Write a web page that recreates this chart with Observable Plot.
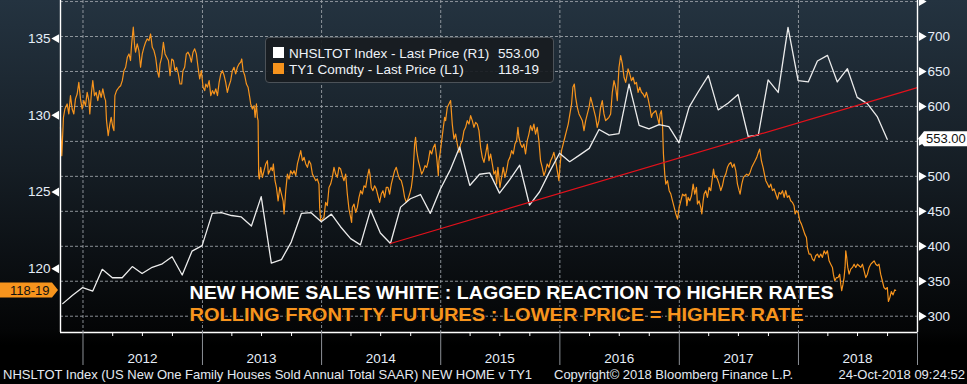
<!DOCTYPE html>
<html><head><meta charset="utf-8">
<script src="https://cdn.jsdelivr.net/npm/d3@7"></script>
<script src="https://cdn.jsdelivr.net/npm/@observablehq/plot@0.6"></script>
<style>
html,body{margin:0;padding:0;background:#000;}
#wrap{position:relative;width:967px;height:384px;overflow:hidden;
 background:linear-gradient(to bottom,#243340 0px,#151d24 170px,#040506 330px,#000 345px,#000 384px);
 font-family:"Liberation Sans",Arial,sans-serif;}
#chart svg{display:block;}
.legend{position:absolute;left:265px;top:37px;width:289px;height:46px;box-sizing:border-box;
 border:1px solid #4c5258;border-radius:4px;background:rgba(24,28,32,0.93);color:#eef2f8;font-size:13.5px;line-height:16px;}
.legend .sw{position:absolute;left:7px;width:11px;height:11px;}
.legend .tx{position:absolute;left:23px;white-space:nowrap;}
.legend .vl{position:absolute;left:232px;white-space:nowrap;}
.foot{position:absolute;top:367px;font-size:13px;line-height:16px;color:#e4eaf2;white-space:nowrap;}
</style>
</head><body>
<div id="wrap">
 <div id="chart"></div>
 <div class="legend">
  <div class="sw" style="top:9px;background:#ffffff"></div>
  <div class="tx" id="lg1" style="top:8px"></div><div class="vl" id="lv1" style="top:8px"></div>
  <div class="sw" style="top:24.5px;background:#f7941d"></div>
  <div class="tx" id="lg2" style="top:24px"></div><div class="vl" id="lv2" style="top:24px"></div>
 </div>
 <div class="foot" id="f1" style="left:3px"></div>
 <div class="foot" id="f2" style="left:554px"></div>
 <div class="foot" id="f3" style="right:2px"></div>
</div>
<script>
// ---------------- DATA ----------------
const nhsMonths = ["2011-10","2011-11","2011-12",
 "2012-01","2012-02","2012-03","2012-04","2012-05","2012-06","2012-07","2012-08","2012-09","2012-10","2012-11","2012-12",
 "2013-01","2013-02","2013-03","2013-04","2013-05","2013-06","2013-07","2013-08","2013-09","2013-10","2013-11","2013-12",
 "2014-01","2014-02","2014-03","2014-04","2014-05","2014-06","2014-07","2014-08","2014-09","2014-10","2014-11","2014-12",
 "2015-01","2015-02","2015-03","2015-04","2015-05","2015-06","2015-07","2015-08","2015-09","2015-10","2015-11","2015-12",
 "2016-01","2016-02","2016-03","2016-04","2016-05","2016-06","2016-07","2016-08","2016-09","2016-10","2016-11","2016-12",
 "2017-01","2017-02","2017-03","2017-04","2017-05","2017-06","2017-07","2017-08","2017-09","2017-10","2017-11","2017-12",
 "2018-01","2018-02","2018-03","2018-04","2018-05","2018-06","2018-07","2018-08","2018-09"];
const nhsValues = [318,330,341,
 336,367,355,355,371,361,370,375,385,359,393,401,
 447,448,444,442,429,471,376,381,406,447,448,435,
 446,428,411,402,452,419,404,456,468,474,447,482,
 510,542,487,503,505,476,495,516,459,478,506,533,
 521,530,540,567,559,561,632,573,568,574,571,548,
 599,621,644,595,605,617,557,559,638,620,713,637,
 635,665,673,635,654,613,604,585,553];

// TY1 front futures price: [decimal year, price]
const tySeries = [
[2011.811,129.22],[2011.822,127.37],[2011.836,129.87],[2011.848,130.41],[2011.867,130.74],[2011.881,130.09],[2011.895,131.28],[2011.909,130.41],[2011.923,130.09],[2011.937,131.07],[2011.951,131.39],[2011.965,132.15],[2011.979,131.07],[2011.993,130.41],
[2012.007,130.96],[2012.021,130.63],[2012.035,131.5],[2012.049,130.96],[2012.057,130.09],[2012.071,131.5],[2012.082,132.26],[2012.096,131.28],[2012.110,131.5],[2012.124,130.96],[2012.138,131.61],[2012.152,131.17],[2012.166,131.72],[2012.180,131.17],[2012.189,130.96],[2012.197,129.65],[2012.211,128.67],[2012.225,129.43],[2012.236,129.87],[2012.250,129.22],[2012.259,129.0],[2012.267,131.28],[2012.281,131.61],[2012.301,131.83],[2012.315,131.93],[2012.329,132.26],[2012.343,132.91],[2012.357,133.13],[2012.371,133.78],[2012.385,134.0],[2012.398,133.57],[2012.407,134.65],[2012.421,135.74],[2012.432,134.54],[2012.440,134.11],[2012.454,134.65],[2012.468,134.22],[2012.482,133.13],[2012.496,134.0],[2012.510,134.43],[2012.524,134.76],[2012.538,134.98],[2012.552,134.87],[2012.566,135.3],[2012.580,134.43],[2012.594,134.22],[2012.608,133.78],[2012.622,132.91],[2012.636,132.48],[2012.645,133.35],[2012.659,133.78],[2012.673,134.76],[2012.687,134.0],[2012.701,133.78],[2012.715,133.57],[2012.729,132.59],[2012.743,133.67],[2012.757,133.57],[2012.770,132.91],[2012.784,133.13],[2012.798,132.7],[2012.812,132.04],[2012.826,132.04],[2012.837,132.91],[2012.851,133.13],[2012.865,134.0],[2012.879,134.11],[2012.893,133.89],[2012.907,133.46],[2012.921,134.11],[2012.935,134.33],[2012.949,134.0],[2012.963,133.13],[2012.977,132.37],[2012.991,132.91],
[2013.005,131.83],[2013.019,131.61],[2013.028,132.04],[2013.042,131.83],[2013.056,132.26],[2013.070,131.28],[2013.084,131.61],[2013.098,131.39],[2013.112,131.72],[2013.126,131.28],[2013.140,132.15],[2013.154,132.7],[2013.168,132.91],[2013.182,132.59],[2013.195,132.15],[2013.209,131.5],[2013.223,131.93],[2013.237,132.26],[2013.251,132.91],[2013.265,133.13],[2013.279,132.7],[2013.293,133.13],[2013.307,133.35],[2013.321,133.46],[2013.330,133.67],[2013.341,132.91],[2013.355,132.59],[2013.369,132.04],[2013.383,131.83],[2013.397,131.17],[2013.405,130.74],[2013.419,130.41],[2013.433,130.63],[2013.442,129.87],[2013.453,130.74],[2013.461,129.87],[2013.467,129.65],[2013.472,126.07],[2013.478,125.85],[2013.489,126.61],[2013.503,125.96],[2013.517,126.39],[2013.531,126.83],[2013.545,127.04],[2013.553,126.17],[2013.565,126.39],[2013.576,126.61],[2013.587,126.39],[2013.595,126.83],[2013.609,125.74],[2013.621,125.3],[2013.635,124.43],[2013.649,125.3],[2013.663,124.87],[2013.677,124.43],[2013.685,123.57],[2013.699,125.09],[2013.713,126.17],[2013.727,125.85],[2013.741,126.39],[2013.755,126.17],[2013.769,126.39],[2013.783,126.07],[2013.797,126.83],[2013.811,127.26],[2013.825,127.7],[2013.839,127.04],[2013.853,127.26],[2013.867,126.83],[2013.881,126.61],[2013.895,127.04],[2013.909,126.83],[2013.923,126.17],[2013.937,125.96],[2013.951,125.74],[2013.964,125.85],[2013.978,125.52],[2013.984,124.0],[2013.992,123.13],
[2014.006,123.24],[2014.020,123.35],[2014.034,124.33],[2014.048,124.11],[2014.062,125.3],[2014.076,125.52],[2014.090,125.96],[2014.104,126.61],[2014.118,126.17],[2014.132,125.96],[2014.146,126.61],[2014.160,126.5],[2014.174,126.07],[2014.188,125.74],[2014.202,126.17],[2014.216,124.87],[2014.230,123.89],[2014.244,123.35],[2014.252,123.02],[2014.258,124.0],[2014.272,124.22],[2014.286,123.67],[2014.300,124.0],[2014.314,124.65],[2014.328,125.09],[2014.342,124.87],[2014.356,125.41],[2014.370,125.3],[2014.384,125.96],[2014.398,126.5],[2014.406,126.17],[2014.417,125.3],[2014.431,125.09],[2014.445,125.41],[2014.459,125.2],[2014.473,124.76],[2014.487,124.33],[2014.501,124.87],[2014.515,125.09],[2014.529,124.65],[2014.543,125.3],[2014.557,125.3],[2014.571,124.87],[2014.585,125.52],[2014.599,125.96],[2014.613,126.39],[2014.627,126.61],[2014.641,126.17],[2014.655,125.85],[2014.669,125.74],[2014.683,125.3],[2014.697,124.65],[2014.711,124.33],[2014.725,124.54],[2014.739,124.87],[2014.753,125.3],[2014.767,126.17],[2014.781,128.13],[2014.789,128.57],[2014.798,127.7],[2014.812,127.04],[2014.826,126.61],[2014.840,126.17],[2014.854,126.39],[2014.868,126.72],[2014.882,126.61],[2014.896,127.04],[2014.910,127.7],[2014.924,127.48],[2014.938,127.91],[2014.952,128.13],[2014.966,127.26],[2014.980,126.07],[2014.985,127.04],[2014.994,127.48],
[2015.008,128.35],[2015.022,129.22],[2015.033,129.87],[2015.041,129.65],[2015.055,130.52],[2015.069,130.74],[2015.083,130.96],[2015.097,129.43],[2015.111,128.46],[2015.125,128.78],[2015.139,128.13],[2015.153,127.59],[2015.167,128.13],[2015.181,128.35],[2015.195,129.0],[2015.209,129.22],[2015.223,129.65],[2015.237,129.43],[2015.251,129.98],[2015.265,129.65],[2015.279,129.22],[2015.293,129.54],[2015.307,129.43],[2015.321,129.0],[2015.335,127.91],[2015.349,127.26],[2015.363,126.93],[2015.377,127.48],[2015.391,128.13],[2015.405,127.04],[2015.419,127.48],[2015.433,126.83],[2015.447,126.17],[2015.461,126.39],[2015.469,125.52],[2015.480,126.61],[2015.489,125.96],[2015.497,125.3],[2015.511,125.96],[2015.525,126.61],[2015.539,125.96],[2015.553,126.39],[2015.567,127.04],[2015.581,127.26],[2015.595,127.7],[2015.609,127.48],[2015.623,128.13],[2015.637,128.35],[2015.648,129.22],[2015.656,128.57],[2015.670,128.13],[2015.684,127.91],[2015.698,128.13],[2015.712,127.48],[2015.726,128.35],[2015.740,128.78],[2015.754,129.33],[2015.768,129.0],[2015.782,129.43],[2015.796,128.78],[2015.810,129.22],[2015.824,128.35],[2015.838,127.04],[2015.852,126.61],[2015.866,126.07],[2015.880,126.39],[2015.894,126.83],[2015.908,126.61],[2015.922,127.04],[2015.936,127.26],[2015.950,127.59],[2015.964,127.04],[2015.978,126.39],[2015.992,125.74],
[2016.000,126.61],[2016.014,127.7],[2016.028,128.13],[2016.042,128.57],[2016.056,129.0],[2016.070,129.43],[2016.084,130.09],[2016.098,130.74],[2016.109,131.83],[2016.121,132.04],[2016.132,131.17],[2016.146,130.52],[2016.160,130.09],[2016.174,129.87],[2016.188,129.65],[2016.202,129.0],[2016.216,129.65],[2016.230,130.09],[2016.244,130.52],[2016.258,131.17],[2016.272,130.74],[2016.286,130.3],[2016.300,129.87],[2016.313,129.22],[2016.327,129.65],[2016.341,130.52],[2016.355,130.96],[2016.369,130.09],[2016.383,129.65],[2016.397,129.76],[2016.411,129.87],[2016.425,130.09],[2016.439,131.5],[2016.453,132.26],[2016.467,131.83],[2016.481,130.96],[2016.487,132.04],[2016.495,133.13],[2016.509,133.89],[2016.523,133.35],[2016.537,132.48],[2016.551,132.15],[2016.557,132.37],[2016.571,133.02],[2016.585,132.7],[2016.599,132.26],[2016.613,132.48],[2016.627,132.04],[2016.641,132.15],[2016.655,131.5],[2016.669,131.83],[2016.683,131.5],[2016.697,131.39],[2016.711,131.17],[2016.725,131.5],[2016.739,131.07],[2016.753,130.52],[2016.767,129.87],[2016.775,130.09],[2016.789,130.2],[2016.803,130.3],[2016.817,129.87],[2016.831,129.43],[2016.839,130.09],[2016.850,130.3],[2016.859,129.43],[2016.867,127.48],[2016.878,126.17],[2016.887,125.52],[2016.901,125.74],[2016.915,125.09],[2016.929,124.87],[2016.943,124.43],[2016.957,124.0],[2016.971,123.57],[2016.985,123.24],[2016.999,124.0],
[2017.013,124.43],[2017.027,124.87],[2017.041,124.76],[2017.055,124.87],[2017.063,124.11],[2017.074,124.65],[2017.088,124.43],[2017.102,124.76],[2017.116,125.52],[2017.130,124.87],[2017.144,125.3],[2017.152,124.22],[2017.166,124.43],[2017.180,124.0],[2017.189,123.57],[2017.200,124.43],[2017.208,124.87],[2017.222,125.09],[2017.236,124.65],[2017.250,125.3],[2017.264,125.09],[2017.278,125.96],[2017.287,126.5],[2017.298,125.96],[2017.306,126.07],[2017.320,125.85],[2017.334,125.52],[2017.348,125.09],[2017.362,125.41],[2017.376,125.96],[2017.390,126.17],[2017.404,126.61],[2017.418,126.83],[2017.432,126.93],[2017.446,126.61],[2017.460,126.83],[2017.474,126.39],[2017.488,125.52],[2017.502,125.09],[2017.510,124.87],[2017.524,125.52],[2017.538,125.96],[2017.552,126.07],[2017.566,126.17],[2017.580,126.07],[2017.594,126.28],[2017.608,126.61],[2017.622,126.83],[2017.636,127.04],[2017.650,127.26],[2017.664,127.59],[2017.675,127.8],[2017.689,127.04],[2017.703,126.61],[2017.717,126.07],[2017.726,125.74],[2017.740,125.52],[2017.754,125.3],[2017.768,125.52],[2017.782,125.09],[2017.796,125.2],[2017.810,124.87],[2017.824,124.54],[2017.838,124.98],[2017.852,124.87],[2017.866,125.09],[2017.880,124.65],[2017.893,125.09],[2017.907,124.65],[2017.921,124.76],[2017.935,124.43],[2017.949,124.33],[2017.963,124.11],[2017.972,123.57],[2017.983,123.78],[2017.997,123.67],
[2018.011,123.13],[2018.025,122.91],[2018.039,122.59],[2018.053,122.26],[2018.067,122.04],[2018.075,121.39],[2018.089,120.96],[2018.103,120.96],[2018.117,120.63],[2018.131,120.52],[2018.145,120.85],[2018.159,120.96],[2018.173,120.74],[2018.187,120.96],[2018.201,120.74],[2018.215,121.17],[2018.229,120.96],[2018.243,121.17],[2018.257,120.52],[2018.271,120.3],[2018.285,120.09],[2018.293,119.65],[2018.305,119.22],[2018.319,119.43],[2018.332,119.43],[2018.346,119.65],[2018.355,119.0],[2018.363,118.57],[2018.374,119.0],[2018.383,119.43],[2018.391,120.09],[2018.397,121.17],[2018.405,120.74],[2018.414,120.09],[2018.425,119.65],[2018.439,119.98],[2018.453,120.09],[2018.467,120.3],[2018.481,120.09],[2018.495,120.3],[2018.509,120.2],[2018.523,120.09],[2018.537,120.3],[2018.551,119.87],[2018.565,119.43],[2018.579,119.65],[2018.593,120.09],[2018.607,120.3],[2018.621,120.41],[2018.635,120.52],[2018.649,120.3],[2018.663,120.2],[2018.676,120.3],[2018.690,119.65],[2018.704,119.22],[2018.718,118.78],[2018.732,118.67],[2018.746,118.78],[2018.755,117.87],[2018.766,118.09],[2018.780,118.52],[2018.794,118.3],[2018.808,118.63],[2018.816,118.59]
];

const trendDates = ["2014-07-31","2018-12-31"];
const trendValues = [404, 627];

const leftTicks = [120,125,130,135];
const leftMinorTicks = [117.5,122.5,127.5,132.5];
// 550 is covered by the last-value tag in the reference, so it carries no label
const rightTicks = [300,350,400,450,500,600,650,700];
const rightMinorTicks = [325,375,425,475,525,575,625,675,725];
const gridValues = [300,350,400,450,500,550,600,650,700,750];
const yearLabels = [2012,2013,2014,2015,2016,2017,2018];

const legendNames = ["NHSLTOT Index - Last Price (R1)", "TY1 Comdty - Last Price (L1)"];
const lastNhsLabel = "553.00";
const lastTyLabel = "118-19";
const lastTyPrice = 118.59;
const annotation1 = "NEW HOME SALES WHITE : LAGGED REACTION TO HIGHER RATES";
const annotation2 = "ROLLING FRONT TY FUTURES : LOWER PRICE = HIGHER RATE";
const footerLeft = "NHSLTOT Index (US New One Family Houses Sold Annual Total SAAR) NEW HOME v TY1";
const footerMid = "Copyright\u00A9 2018 Bloomberg Finance L.P.";
const footerRight = "24-Oct-2018 09:24:52";

// ---------------- HELPERS ----------------
function decToDate(t){const y=Math.floor(t);const a=Date.UTC(y,0,1),b=Date.UTC(y+1,0,1);return new Date(a+(t-y)*(b-a));}
function monthEnd(s){const d=d3.utcParse("%Y-%m")(s);return d3.utcDay.offset(d3.utcMonth.offset(d,1),-1);}
// left axis (TY price) expressed in right-axis units
const L2R = v => 367.8 + (v-120)*21.95;
const R2L = r => 120 + (r-367.8)/21.95;

const nhs = nhsMonths.map((m,i)=>({date:monthEnd(m), value:nhsValues[i]}));
const ty = tySeries.map(([t,p])=>({date:decToDate(t), price:p}));
const trend = trendDates.map((d,i)=>({date:d3.utcParse("%Y-%m-%d")(d), value:trendValues[i]}));

const xDomain = [decToDate(2011.8112), decToDate(2018.9992)];
const yDomain = [276.7, 751.5];
const yearStarts = yearLabels.map(y=>new Date(Date.UTC(y,0,1)));
const yearMids = yearLabels.map(y=>new Date(Date.UTC(y,6,1)));
const quarterTicks = yearLabels.flatMap(y=>[3,6,9].map(m=>new Date(Date.UTC(y,m,1))));

const lbl = "#e6eef8";
const gridStyle = {stroke:"#a0a6ac", strokeOpacity:0.85, strokeDasharray:"3,2", strokeWidth:1};

const plot = Plot.plot({
  width: 967, height: 384,
  marginLeft: 60, marginRight: 50, marginTop: 0, marginBottom: 52,
  style: {background:"transparent", color: lbl, fontFamily:"Liberation Sans, Arial, sans-serif", fontSize:"13px"},
  x: {type:"utc", domain:xDomain},
  y: {domain:yDomain},
  marks: [
    Plot.gridY(gridValues, gridStyle),
    Plot.gridX(yearStarts, gridStyle),
    Plot.line(ty, {x:"date", y:d=>L2R(d.price), stroke:"#f7941d", strokeWidth:1.2}),
    Plot.line(nhs, {x:"date", y:"value", stroke:"#ececec", strokeWidth:1.3}),
    Plot.line(trend, {x:"date", y:"value", stroke:"#e3111b", strokeWidth:1.2}),
    // axis lines
    Plot.ruleX([xDomain[0], xDomain[1]], {stroke:"#ffffff", strokeWidth:1.4}),
    Plot.ruleY([yDomain[0]], {stroke:"#ffffff", strokeWidth:1.4}),
    // left axis (TY1)
    Plot.axisY({ticks: leftTicks.map(L2R), anchor:"left", tickSize:0, tickPadding:10, fontSize:13.5,
      tickFormat: r => d3.format(".0f")(R2L(r)), label:null}),
    Plot.tickY(leftMinorTicks.map(L2R), {y:d=>d, stroke:"#ffffff", insetLeft:-4, insetRight:861, clip:false}),
    Plot.dot(leftTicks, {x:()=>xDomain[0], y:v=>L2R(v), symbol:"triangle", rotate:-90, r:3.3, fill:"#ffffff", dx:-4}),
    // right axis (NHSLTOT)
    Plot.axisY({ticks: rightTicks, anchor:"right", tickSize:0, tickPadding:10, fontSize:13.5, label:null}),
    Plot.tickY(rightMinorTicks, {y:d=>d, stroke:"#ffffff", insetLeft:861, insetRight:-4, clip:false}),
    Plot.dot(gridValues, {x:()=>xDomain[1], y:v=>v, symbol:"triangle", rotate:90, r:3.3, fill:"#ffffff", dx:4}),
    // bottom axis
    Plot.axisX({ticks: quarterTicks, tickSize:4, stroke:"#ffffff", tickFormat:()=>"", label:null}),
    Plot.axisX({ticks: [...yearStarts, xDomain[1]], tickSize:33, stroke:"#8c9096", tickFormat:()=>"", label:null}),
    Plot.axisX({ticks: yearMids, tickSize:0, tickPadding:21, fontSize:13.5, tickFormat:d3.utcFormat("%Y"), label:null}),
    // annotation
    Plot.text([annotation1], {text:d=>d, frameAnchor:"top-left", dx:129, dy:293, textAnchor:"start", lineAnchor:"middle",
      fill:"#ffffff", stroke:"#0b0b0b", strokeWidth:2.5, fontSize:18.5, fontWeight:"bold", className:"anno1"}),
    Plot.text([annotation2], {text:d=>d, frameAnchor:"top-left", dx:129, dy:315, textAnchor:"start", lineAnchor:"middle",
      fill:"#f7941d", stroke:"#0b0b0b", strokeWidth:2.5, fontSize:18.5, fontWeight:"bold", className:"anno2"})
  ]
});
document.getElementById("chart").appendChild(plot);

const svg = d3.select(plot);
svg.selectAll(".anno1, .anno2").attr("paint-order","stroke").attr("stroke-linejoin","round");
svg.selectAll(".anno1 text").attr("textLength",644).attr("lengthAdjust","spacingAndGlyphs");
svg.selectAll(".anno2 text").attr("textLength",614).attr("lengthAdjust","spacingAndGlyphs");

// last-value tags placed through the plot's scales
const ys = plot.scale("y"), xs = plot.scale("x");
const xl = xs.apply(xDomain[0]), xr = xs.apply(xDomain[1]);
const yTy = ys.apply(L2R(lastTyPrice)), yNh = ys.apply(nhsValues[nhsValues.length-1]);
const tags = svg.append("g").attr("font-family","Liberation Sans, Arial, sans-serif")
  .attr("font-size",13).attr("text-anchor","start");
tags.append("path").attr("fill","#f7941d")
  .attr("d",`M0,${yTy-7.5}H${xl-8}L${xl-2},${yTy}L${xl-8},${yTy+7.5}H0Z`);
tags.append("text").attr("x",10).attr("y",yTy).attr("dy","0.36em").attr("fill","#111").text(lastTyLabel);
tags.append("path").attr("fill","#ffffff")
  .attr("d",`M${xr+1},${yNh}L${xr+7},${yNh-7.5}H967V${yNh+7.5}H${xr+7}Z`);
tags.append("text").attr("x",xr+9).attr("y",yNh).attr("dy","0.36em").attr("fill","#111").text(lastNhsLabel);

document.getElementById("lg1").textContent = legendNames[0];
document.getElementById("lg2").textContent = legendNames[1];
document.getElementById("lv1").textContent = lastNhsLabel;
document.getElementById("lv2").textContent = lastTyLabel;
document.getElementById("f1").textContent = footerLeft;
document.getElementById("f2").textContent = footerMid;
document.getElementById("f3").textContent = footerRight;
</script>
</body></html>
